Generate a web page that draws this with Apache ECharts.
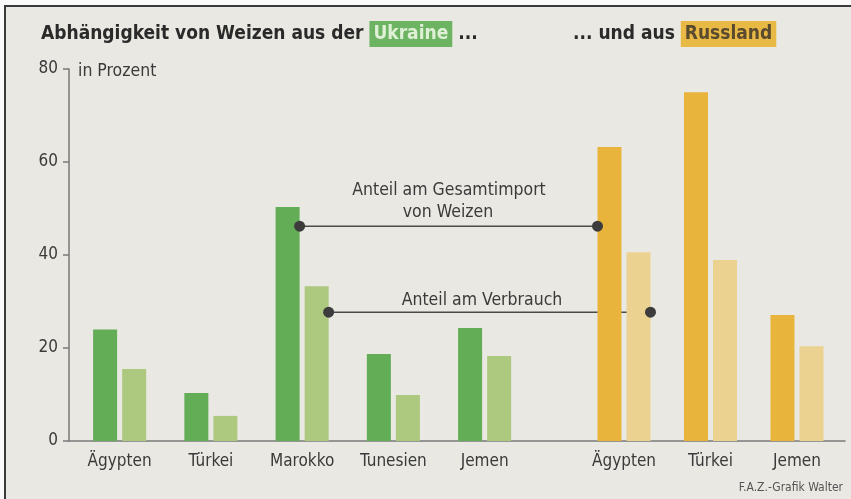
<!DOCTYPE html>
<html>
<head>
<meta charset="utf-8">
<script src="https://cdn.jsdelivr.net/npm/echarts@6/dist/echarts.min.js"></script>
<style>
  html, body { margin: 0; padding: 0; background: #fafafa; }
  #wrap { position: relative; width: 851px; height: 499px; }
  #chart { position: absolute; left: 0; top: 0; width: 851px; height: 499px; }
  #frame {
    position: absolute; left: 0; top: 0; width: 851px; height: 499px;
    box-sizing: border-box; border-top: 5px solid #fafafa; border-left: 4px solid #fafafa;
    pointer-events: none;
  }
  #frame div {
    width: 100%; height: 100%; box-sizing: border-box;
    border-top: 2px solid #3a3a3a; border-left: 2px solid #3a3a3a;
  }
</style>
</head>
<body>
<div id="wrap">
  <div id="chart"></div>
  <div id="frame"><div></div></div>
</div>
<script>
// Anteil in Prozent
const ukraineCountries = ['Ägypten', 'Türkei', 'Marokko', 'Tunesien', 'Jemen']
const ukraineImport = [24, 10.3, 50.3, 18.7, 24.3]
const ukraineVerbrauch = [15.5, 5.4, 33.3, 9.9, 18.3]

const russiaCountries = ['Ägypten', 'Türkei', 'Jemen']
const russiaImport = [63.2, 75, 27.1]
const russiaVerbrauch = [40.6, 38.9, 20.4]

const yTicks = [0, 20, 40, 60, 80]

const FONT = "'Liberation Sans Narrow', 'DejaVu Sans Condensed', 'Noto Sans', sans-serif"
const TEXT = '#3a3a3a'

const colors = {
  ukraineDark: '#62ad55',
  ukraineLight: '#adc97f',
  russiaDark: '#e8b43c',
  russiaLight: '#ebd291'
}

const chart = echarts.init(document.getElementById('chart'), null, { renderer: 'canvas' })

const gridTop = 69
const gridBottom = 58

function barSeries(name, data, color, axis) {
  return {
    name,
    type: 'bar',
    xAxisIndex: axis,
    yAxisIndex: axis,
    data,
    barWidth: 24,
    barGap: '21%',
    itemStyle: { color },
    z: 3
  }
}

const hiddenY = { type: 'value', min: 0, max: 80, interval: 20, show: false }

const option = {
  backgroundColor: '#e9e8e3',
  animation: false,
  textStyle: { fontFamily: FONT },
  title: [
    {
      left: 36,
      top: 16,
      text: '{t|Abhängigkeit von Weizen aus der }{u|Ukraine}{t| ...}',
      textStyle: {
        rich: {
          t: { fontFamily: FONT, fontSize: 19, fontWeight: 'bold', color: '#2a2a2a' },
          u: {
            fontFamily: FONT, fontSize: 19, fontWeight: 'bold', color: '#dff0d6',
            backgroundColor: '#6cb462', padding: [4, 4, 3, 4]
          }
        }
      }
    },
    {
      left: 568,
      top: 16,
      text: '{t|... und aus }{r|Russland}',
      textStyle: {
        rich: {
          t: { fontFamily: FONT, fontSize: 19, fontWeight: 'bold', color: '#2a2a2a' },
          r: {
            fontFamily: FONT, fontSize: 19, fontWeight: 'bold', color: '#5a4a2e',
            backgroundColor: '#e9b945', padding: [4, 4, 3, 4]
          }
        }
      }
    }
  ],
  grid: [
    { left: 74, width: 456.25, top: gridTop, bottom: gridBottom },
    { left: 580.75, width: 259.5, top: gridTop, bottom: gridBottom },
    { left: 69, right: 6, top: gridTop, bottom: gridBottom }
  ],
  xAxis: [
    {
      type: 'category', gridIndex: 0, data: ukraineCountries,
      axisLine: { show: false }, axisTick: { show: false },
      axisLabel: { fontFamily: FONT, fontSize: 17, color: TEXT, margin: 12 }
    },
    {
      type: 'category', gridIndex: 1, data: russiaCountries,
      axisLine: { show: false }, axisTick: { show: false },
      axisLabel: { fontFamily: FONT, fontSize: 17, color: TEXT, margin: 12 }
    },
    {
      type: 'value', gridIndex: 2, min: 0, max: 1,
      axisLine: { show: true, lineStyle: { color: '#7a7a7a', width: 1.5 } },
      axisTick: { show: false }, axisLabel: { show: false }, splitLine: { show: false }
    }
  ],
  yAxis: [
    Object.assign({ gridIndex: 0 }, hiddenY),
    Object.assign({ gridIndex: 1 }, hiddenY),
    {
      type: 'value', gridIndex: 2, min: yTicks[0], max: yTicks[yTicks.length - 1], interval: 20,
      axisLine: { show: true, lineStyle: { color: '#7a7a7a', width: 1.5 } },
      axisTick: { show: true, length: 6, lineStyle: { color: '#7a7a7a', width: 1.5 } },
      axisLabel: { fontFamily: FONT, fontSize: 17, color: TEXT, margin: 11 },
      splitLine: { show: false }
    }
  ],
  series: [
    barSeries('Ukraine Import', ukraineImport, colors.ukraineDark, 0),
    barSeries('Ukraine Verbrauch', ukraineVerbrauch, colors.ukraineLight, 0),
    barSeries('Russland Import', russiaImport, colors.russiaDark, 1),
    barSeries('Russland Verbrauch', russiaVerbrauch, colors.russiaLight, 1)
  ]
}

chart.setOption(option)

// Verbindungslinien der Legende, an den Balken ausgerichtet
const importLevel = 46.2
const verbrauchLevel = 27.7
const halfGap = 2.5
const bw = 24

const marokko = chart.convertToPixel({ xAxisIndex: 0 }, 'Marokko')
const aegyptenRu = chart.convertToPixel({ xAxisIndex: 1 }, 'Ägypten')
const yImport = chart.convertToPixel({ yAxisIndex: 2 }, importLevel)
const yVerbrauch = chart.convertToPixel({ yAxisIndex: 2 }, verbrauchLevel)

const p1 = [marokko - halfGap, yImport]
const p2 = [aegyptenRu - halfGap - bw, yImport]
const p3 = [marokko + halfGap + bw, yVerbrauch]
const p4 = [aegyptenRu + halfGap + bw, yVerbrauch]

const lineStyle = { stroke: '#4a4a4a', lineWidth: 1.5 }
const dotStyle = { fill: '#3c3c3c' }
const labelStyle = { fontFamily: FONT, fontSize: 17.5, fill: TEXT, align: 'center', verticalAlign: 'middle' }

chart.setOption({
  graphic: [
    { type: 'line', z: 1, shape: { x1: p1[0], y1: p1[1], x2: p2[0], y2: p2[1] }, style: lineStyle },
    { type: 'line', z: 1, shape: { x1: p3[0], y1: p3[1], x2: p4[0], y2: p4[1] }, style: lineStyle },
    { type: 'circle', z: 5, shape: { cx: p1[0], cy: p1[1], r: 5.5 }, style: dotStyle },
    { type: 'circle', z: 5, shape: { cx: p2[0], cy: p2[1], r: 5.5 }, style: dotStyle },
    { type: 'circle', z: 5, shape: { cx: p3[0], cy: p3[1], r: 5.5 }, style: dotStyle },
    { type: 'circle', z: 5, shape: { cx: p4[0], cy: p4[1], r: 5.5 }, style: dotStyle },
    { type: 'text', z: 5, x: 449, y: 190, style: Object.assign({ text: 'Anteil am Gesamtimport' }, labelStyle) },
    { type: 'text', z: 5, x: 448, y: 212, style: Object.assign({ text: 'von Weizen' }, labelStyle) },
    { type: 'text', z: 5, x: 482, y: 300, style: Object.assign({ text: 'Anteil am Verbrauch' }, labelStyle) },
    {
      type: 'text', z: 5, x: 78, y: 71,
      style: { text: 'in Prozent', fontFamily: FONT, fontSize: 17.5, fill: TEXT, verticalAlign: 'middle' }
    },
    {
      type: 'text', z: 5, x: 843, y: 488,
      style: { text: 'F.A.Z.-Grafik Walter', fontFamily: FONT, fontSize: 12, fill: '#555', align: 'right', verticalAlign: 'middle' }
    }
  ]
})
</script>
</body>
</html>
